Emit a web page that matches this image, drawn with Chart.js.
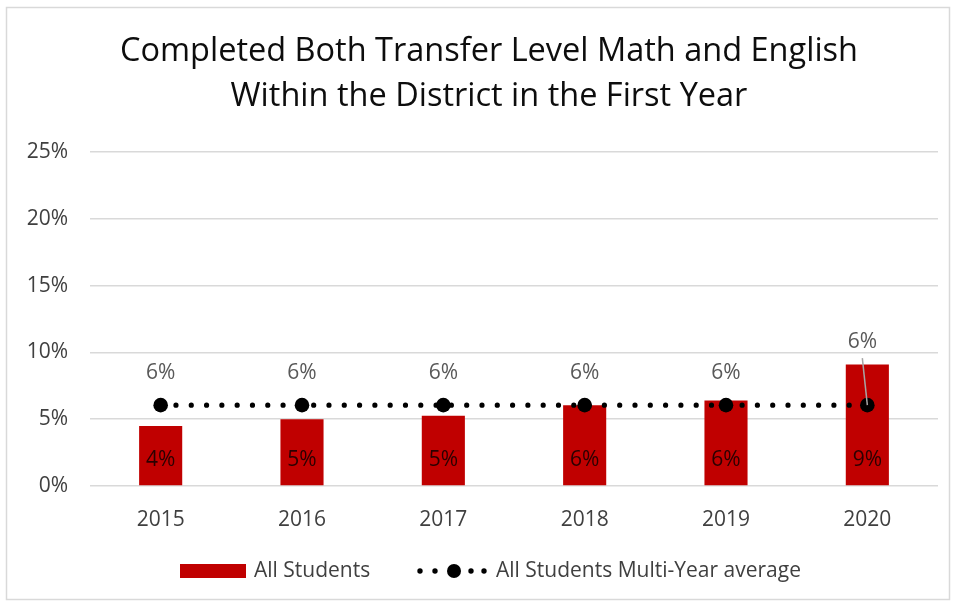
<!DOCTYPE html>
<html><head><meta charset="utf-8">
<script src="https://cdn.jsdelivr.net/npm/chart.js@4/dist/chart.umd.min.js"></script>
<style>
html,body{margin:0;padding:0;background:#fff;}
#wrap{position:absolute;left:0;top:0;width:957px;height:605px;}
</style></head><body>
<div id="wrap"><canvas id="c" width="957" height="605"></canvas></div>
<script>
const titleLines = ['Completed Both Transfer Level Math and English', 'Within the District in the First Year'];
const years = ['2015', '2016', '2017', '2018', '2019', '2020'];
const allStudents = [4.5, 5.0, 5.25, 6.05, 6.4, 9.1];
const allStudentsLabels = ['4%', '5%', '5%', '6%', '6%', '9%'];
const multiYearAvg = [6.05, 6.05, 6.05, 6.05, 6.05, 6.05];
const multiYearLabels = ['6%', '6%', '6%', '6%', '6%', '6%'];
const yTickValues = [0, 5, 10, 15, 20, 25];
const seriesNames = ['All Students', 'All Students Multi-Year average'];

const FONT = "'Open Sans', 'DejaVu Sans', sans-serif";
const FS = 21;
const GRAY = '#595959';
const RED = '#c00000';

const decor = {
  id: 'decor',
  beforeDraw(chart) {
    const ctx = chart.ctx;
    ctx.save();
    ctx.fillStyle = '#fff';
    ctx.fillRect(0, 0, chart.width, chart.height);
    ctx.strokeStyle = '#d9d9d9';
    ctx.lineWidth = 1.5;
    ctx.strokeRect(6.5, 7.5, 943, 592);
    ctx.fillStyle = '#0d0d0d';
    ctx.font = "32.5px " + FONT;
    ctx.textAlign = 'center';
    ctx.textBaseline = 'middle';
    ctx.fillText(titleLines[0], 489, 52);
    ctx.fillText(titleLines[1], 489, 97);
    ctx.restore();
  },
  afterDatasetsDraw(chart) {
    const ctx = chart.ctx;
    ctx.save();
    ctx.font = FS + "px " + FONT;
    ctx.textAlign = 'center';
    ctx.textBaseline = 'middle';
    const barMeta = chart.getDatasetMeta(1);
    barMeta.data.forEach((el, i) => {
      ctx.fillStyle = '#2b0000';
      ctx.fillText(allStudentsLabels[i], el.x, el.base - 25);
    });
    const lineMeta = chart.getDatasetMeta(0);
    lineMeta.data.forEach((el, i) => {
      ctx.fillStyle = GRAY;
      if (i === lineMeta.data.length - 1) {
        ctx.strokeStyle = '#a6a6a6';
        ctx.lineWidth = 1.5;
        ctx.beginPath();
        ctx.moveTo(el.x - 5, el.y - 47);
        ctx.lineTo(el.x, el.y);
        ctx.stroke();
        ctx.fillText(multiYearLabels[i], el.x - 5, el.y - 63);
      } else {
        ctx.fillText(multiYearLabels[i], el.x, el.y - 32);
      }
    });
    ctx.restore();
  },
  afterDraw(chart) {
    const ctx = chart.ctx;
    ctx.save();
    const ly = 571;
    ctx.fillStyle = RED;
    ctx.fillRect(180, ly - 7, 66, 14);
    ctx.font = FS + "px " + FONT;
    ctx.textAlign = 'left';
    ctx.textBaseline = 'middle';
    ctx.fillStyle = '#404040';
    ctx.fillText(seriesNames[0], 254, ly);
    ctx.fillStyle = '#000';
    [420, 435, 471, 484].forEach(x => { ctx.beginPath(); ctx.arc(x, ly, 2.7, 0, Math.PI * 2); ctx.fill(); });
    ctx.beginPath(); ctx.arc(454, ly, 7, 0, Math.PI * 2); ctx.fill();
    ctx.fillStyle = '#404040';
    ctx.fillText(seriesNames[1], 496, ly);
    ctx.restore();
  }
};

new Chart(document.getElementById('c'), {
  type: 'bar',
  data: {
    labels: years,
    datasets: [
      {
        type: 'line',
        label: seriesNames[1],
        data: multiYearAvg,
        borderColor: '#000',
        borderWidth: 5.2,
        borderDash: [0.001, 15.3],
        borderCapStyle: 'round',
        pointRadius: 7.3,
        pointBackgroundColor: '#000',
        pointBorderWidth: 0,
        fill: false,
        order: 0
      },
      {
        label: seriesNames[0],
        data: allStudents,
        backgroundColor: RED,
        barPercentage: 0.305,
        categoryPercentage: 1,
        order: 1
      }
    ]
  },
  options: {
    responsive: false,
    devicePixelRatio: 1,
    animation: false,
    layout: { padding: { left: 0, right: 19, top: 152, bottom: 59 } },
    plugins: { legend: { display: false }, title: { display: false }, tooltip: { enabled: false } },
    scales: {
      x: {
        grid: { display: false },
        border: { display: false },
        ticks: { color: '#404040', font: { family: FONT, size: FS }, padding: 13 },
        afterFit(s) { s.height = 60; }
      },
      y: {
        min: 0, max: 25,
        afterBuildTicks(s) { s.ticks = yTickValues.map(v => ({ value: v })); },
        ticks: { color: '#404040', font: { family: FONT, size: FS }, padding: 22, callback: v => v + '%' },
        grid: { color: '#d9d9d9', lineWidth: 1.5, drawTicks: false },
        border: { display: false },
        afterFit(s) { s.width = 90; s.paddingTop = 0; s.paddingBottom = 0; }
      }
    }
  },
  plugins: [decor]
});
</script>
</body></html>
